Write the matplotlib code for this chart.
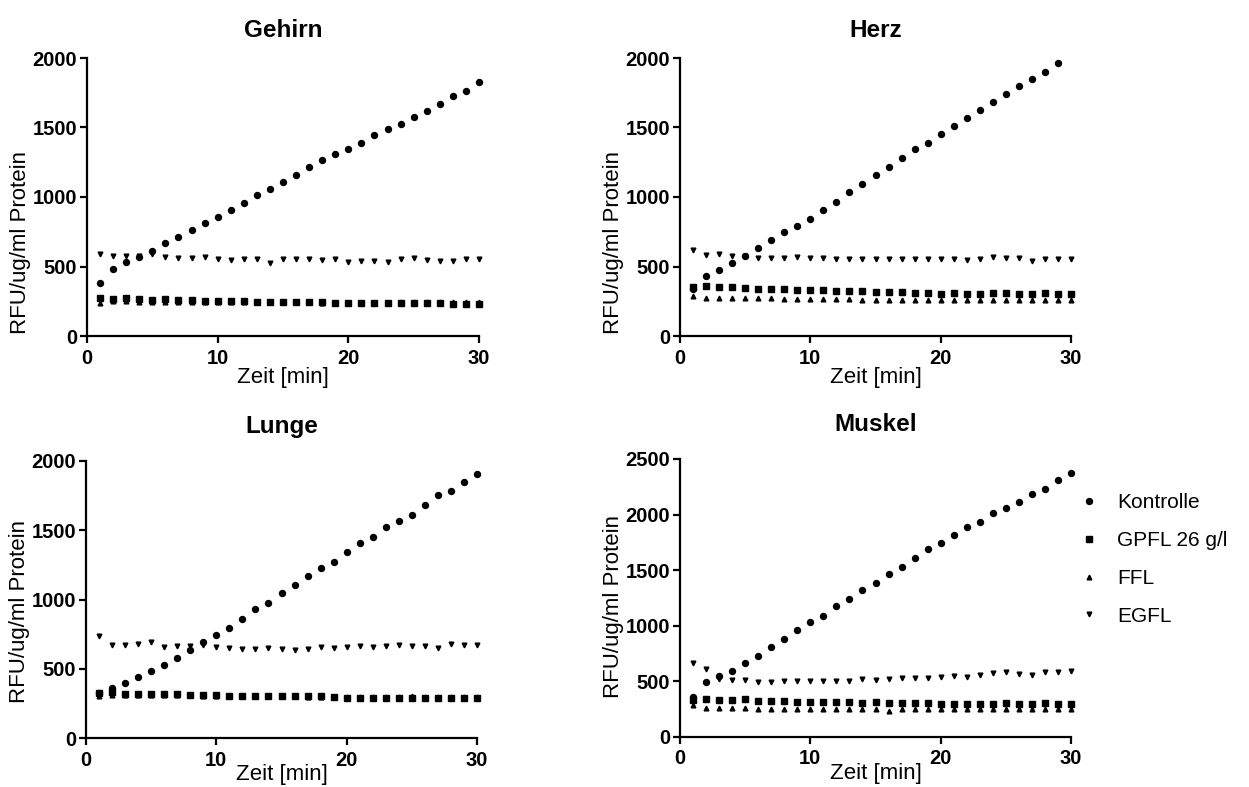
"""Enzymkinetik: RFU pro ug/ml Protein ueber die Zeit fuer vier Gewebe."""

import matplotlib
matplotlib.use("Agg")
import matplotlib.pyplot as plt
import numpy as np
from matplotlib.lines import Line2D

plt.rcParams["font.family"] = ["Liberation Sans", "DejaVu Sans"]

minutes = np.arange(1, 31)
nan = np.nan

gehirn_kontrolle = [382, 481, 531, 570, 613, 668, 712, 762, 810, 858, 904, 959, 1012, 1058, 1108,
                    1156, 1214, 1264, 1308, 1346, 1387, 1445, 1490, 1524, 1577, 1620, 1668, 1726, 1762, 1829]
gehirn_gpfl = [272, 269, 272, 267, 262, 267, 262, 260, 255, 252, 252, 255, 248, 245, 245,
               248, 243, 243, 240, 238, 238, 236, 236, 236, 236, 236, 236, 233, 233, 233]
gehirn_ffl = [238, 250, 250, 248, 248, 247, 246, 246, 245, 245, 244, 244, 243, 243, 242,
              242, 242, 241, 241, 241, 240, 240, 240, 242, 248, 248, 246, 245, 245, 244]
gehirn_egfl = [589, 577, 579, 575, 591, 567, 562, 562, 565, 555, 550, 553, 555, 522, 555,
               553, 553, 550, 555, 529, 543, 543, 534, 555, 560, 546, 538, 541, 555, 555]

herz_kontrolle = [340, 430, 476, 522, 579, 635, 692, 748, 788, 841, 906, 966, 1034, 1091, 1156,
                  1219, 1281, 1346, 1392, 1452, 1514, 1570, 1625, 1680, 1738, 1796, 1851, 1899, 1962, nan]
herz_gpfl = [353, 361, 353, 349, 344, 341, 339, 339, 334, 329, 329, 327, 325, 322, 317,
             315, 317, 312, 310, 305, 307, 305, 305, 307, 310, 305, 300, 307, 305, 305]
herz_ffl = [286, 274, 274, 272, 270, 270, 270, 268, 266, 266, 265, 264, 264, 262, 262,
            261, 261, 260, 260, 260, 259, 259, 259, 259, 258, 258, 258, 257, 257, 257]
herz_egfl = [618, 582, 587, 577, 572, 562, 562, 562, 570, 560, 558, 557, 557, 555, 557,
             553, 557, 553, 553, 553, 553, 550, 553, 567, 562, 560, 538, 555, 555, 557]

lunge_kontrolle = [325, 361, 397, 440, 483, 526, 575, 632, 692, 743, 796, 861, 933, 976, 1046,
                   1103, 1171, 1226, 1269, 1346, 1409, 1450, 1522, 1565, 1608, 1685, 1755, 1786, 1851, 1909]
lunge_gpfl = [325, 329, 320, 320, 317, 317, 320, 313, 313, 310, 300, 300, 305, 300, 305,
              300, 300, 303, 293, 291, 291, 291, 289, 291, 291, 291, 291, 291, 291, 291]
lunge_ffl = [305, 310, 312, 312, 310, 309, 310, 308, 306, 305, 303, 302, 302, 301, 300,
             300, 299, 298, 298, 297, 296, 296, 295, 295, 300, 296, 298, 295, 294, 294]
lunge_egfl = [733, 675, 675, 680, 690, 654, 663, 661, 673, 654, 647, 639, 644, 649, 642,
              632, 644, 654, 647, 654, 663, 656, 666, 668, 663, 661, 649, 678, 675, 675]

muskel_kontrolle = [361, 499, 553, 598, 667, 730, 811, 883, 959, 1031, 1091, 1181, 1244, 1325, 1388,
                    1466, 1529, 1614, 1689, 1743, 1815, 1884, 1935, 2010, 2055, 2115, 2185, 2230, 2314, 2371]
muskel_gpfl = [337, 340, 331, 337, 343, 328, 325, 322, 319, 316, 316, 316, 313, 310, 313,
               307, 310, 307, 307, 300, 300, 300, 297, 300, 303, 300, 300, 303, 300, 300]
muskel_ffl = [285, 260, 260, 258, 258, 256, 255, 255, 254, 252, 252, 251, 250, 250, 250,
              234, 248, 250, 250, 250, 250, 252, 252, 254, 256, 256, 256, 256, 256, 256]
muskel_egfl = [661, 613, 523, 511, 517, 496, 496, 502, 502, 508, 508, 508, 508, 520, 514,
               523, 529, 532, 532, 541, 550, 544, 556, 574, 583, 571, 562, 583, 583, 592]

series_labels = ["Kontrolle", "GPFL 26 g/l", "FFL", "EGFL"]
markers = ["o", "s", "^", "v"]
marker_sizes = [4.3, 4.0, 3.4, 3.4]

panels = [
    ("Gehirn", [gehirn_kontrolle, gehirn_gpfl, gehirn_ffl, gehirn_egfl], 2000),
    ("Herz", [herz_kontrolle, herz_gpfl, herz_ffl, herz_egfl], 2000),
    ("Lunge", [lunge_kontrolle, lunge_gpfl, lunge_ffl, lunge_egfl], 2000),
    ("Muskel", [muskel_kontrolle, muskel_gpfl, muskel_ffl, muskel_egfl], 2500),
]

W, H = 1249, 787
# Achsenrechtecke in Pixeln: links, oben, rechts, unten
boxes = [(87, 58, 479, 336), (680, 58, 1071, 336), (86, 461, 477, 738), (680, 459, 1071, 737)]
# Position der y-Beschriftung (Achsenanteil), wie im Original leicht nach unten versetzt
ylabel_y = [0.338, 0.338, 0.458, 0.468]

fig = plt.figure(figsize=(W / 100, H / 100), dpi=100)

for (title, data, ymax), (l, t, r, b), ly in zip(panels, boxes, ylabel_y):
    ax = fig.add_axes([l / W, 1 - b / H, (r - l) / W, (b - t) / H])
    for vals, m, ms in zip(data, markers, marker_sizes):
        ax.plot(minutes, vals, ls="none", marker=m, ms=ms, color="black", clip_on=False)
    ax.set_xlim(0, 30)
    ax.set_ylim(0, ymax)
    ax.set_xticks([0, 10, 20, 30])
    ax.set_yticks(np.arange(0, ymax + 1, 500))
    for side in ("top", "right"):
        ax.spines[side].set_visible(False)
    for side in ("left", "bottom"):
        ax.spines[side].set_linewidth(1.6)
    ax.tick_params(direction="out", length=5, width=1.6, labelsize=14.5)
    ax.tick_params(axis="x", pad=4)
    ax.tick_params(axis="y", pad=2)
    for lab in ax.get_xticklabels() + ax.get_yticklabels():
        lab.set_fontweight("bold")
    ax.set_title(title, fontsize=17.5, fontweight="bold", pad=20 if t > 400 else 15)
    ax.set_ylabel("RFU/ug/ml Protein", fontsize=16)
    ax.yaxis.set_label_coords(-56 / (r - l), ly)
    ax.set_xlabel("Zeit [min]", fontsize=16, labelpad=-4 if t > 400 else 0)

handles = [
    Line2D([], [], ls="none", marker=m, ms=ms, color="black", label=lab)
    for m, ms, lab in zip(markers, marker_sizes, series_labels)
]
fig.legend(handles=handles, loc="upper left", bbox_to_anchor=(1068 / W, 1 - 485 / H),
           frameon=False, fontsize=15, handlelength=1.2, handletextpad=0.75,
           labelspacing=0.9, borderaxespad=0)

fig.savefig("out.png", dpi=100)
